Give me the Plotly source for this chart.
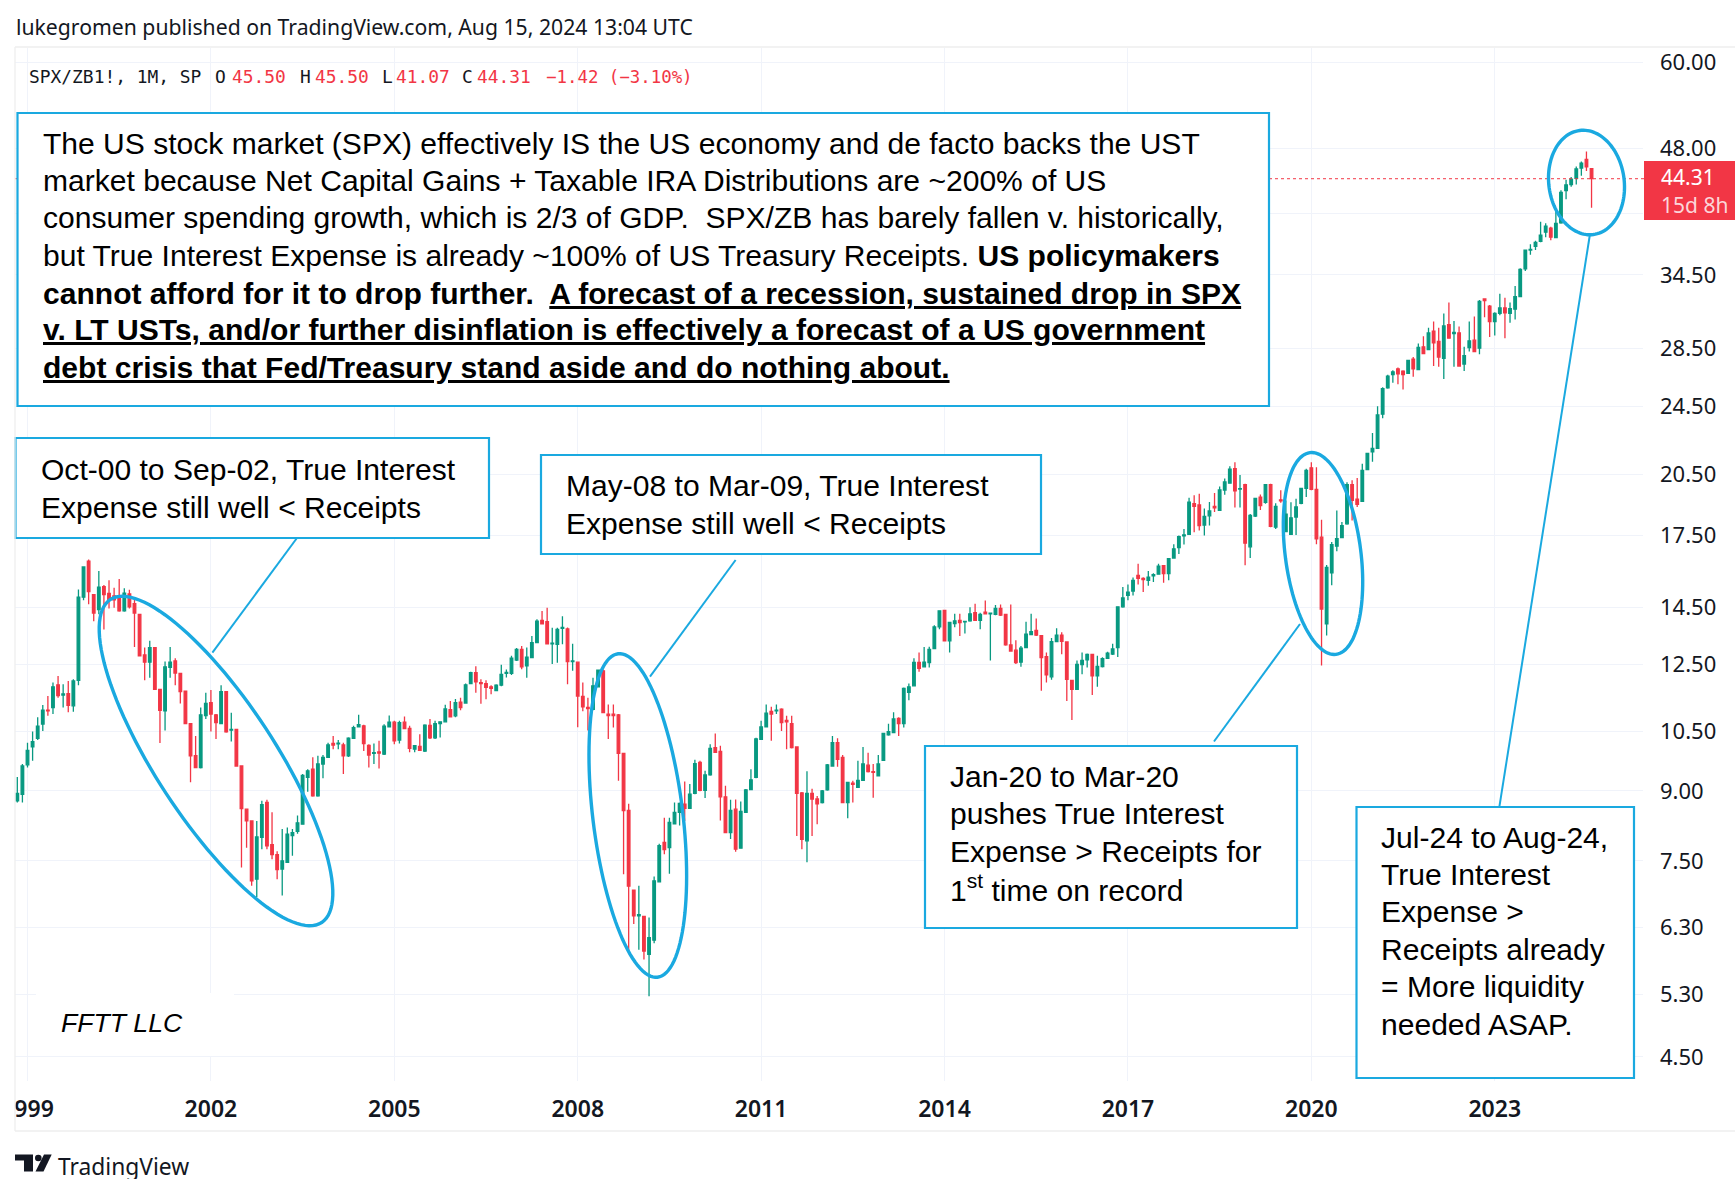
"""Месячные свечи SPX/ZB1! с текстовыми врезками и овалами (Plotly, всё в одном out.html)."""
import math
import plotly.graph_objects as go

W, H = 1735, 1179
BLUE = '#1AA9E0'
RED = '#F23645'
GREEN = '#089981'
INK = '#131722'
GRID = '#F0F3FA'

months = list(range(-2, 308))  # номер месяца от января 1999
opens = [
    8.77, 8.92, 9.63, 10.09, 10.32, 10.71, 11.1, 11.18, 11.86, 11.55,
    11.59, 11.23, 12.0, 14.9, 16.37, 15.0, 14.43, 15.32, 15.05, 14.95,
    14.88, 14.38, 15.03, 14.65, 14.25, 12.82, 12.58, 13.07, 11.72, 11.08,
    12.41, 12.62, 12.22, 11.67, 10.72, 9.86, 9.56, 10.95, 11.32, 10.97,
    10.72, 11.65, 10.54, 10.56, 9.6, 8.58, 8.32, 7.15, 7.97, 8.73,
    7.82, 7.62, 7.34, 7.47, 8.01, 8.1, 8.25, 9.32, 9.52, 8.88,
    9.65, 9.82, 10.18, 10.17, 10.14, 9.86, 10.32, 10.63, 10.66, 10.13,
    9.92, 9.96, 9.9, 10.63, 10.76, 10.27, 10.76, 10.59, 10.03, 10.1,
    9.98, 10.67, 10.33, 10.72, 10.77, 11.12, 10.94, 11.34, 11.31, 11.9,
    12.24, 11.93, 11.9, 11.8, 11.68, 11.85, 12.22, 12.22, 12.65, 13.01,
    12.46, 12.73, 13.24, 14.03, 13.98, 13.2, 13.18, 13.74, 13.72, 12.6,
    12.58, 11.51, 11.18, 11.13, 11.8, 12.3, 10.99, 10.99, 10.97, 9.92,
    8.55, 6.95, 6.5, 6.49, 5.88, 6.1, 7.1, 7.87, 7.76, 8.26,
    8.51, 8.69, 8.6, 8.94, 9.69, 9.01, 9.38, 10.07, 9.97, 8.86,
    8.07, 8.58, 7.75, 8.51, 9.03, 9.32, 10.29, 10.63, 11.07, 11.08,
    11.13, 10.81, 10.72, 10.09, 8.95, 7.9, 8.94, 8.81, 8.73, 9.02,
    9.6, 10.2, 9.82, 8.73, 9.18, 9.08, 9.25, 9.62, 9.46, 9.36,
    9.74, 10.41, 10.47, 10.87, 10.72, 11.63, 11.83, 12.57, 12.43, 12.57,
    13.03, 13.79, 14.4, 13.3, 13.91, 14.03, 13.97, 14.01, 14.31, 14.03,
    14.33, 14.27, 14.25, 14.47, 14.25, 13.16, 12.98, 12.58, 13.07, 13.52,
    13.67, 13.48, 12.76, 12.11, 13.27, 13.5, 13.26, 12.0, 11.72, 12.5,
    12.66, 12.84, 12.14, 12.44, 12.71, 12.85, 13.07, 14.53, 14.97, 15.14,
    15.77, 15.65, 15.57, 15.75, 15.82, 16.18, 15.84, 16.5, 16.95, 17.48,
    17.55, 19.01, 18.95, 17.98, 18.42, 18.88, 18.68, 19.7, 20.05, 20.83,
    19.75, 19.98, 16.99, 18.41, 19.34, 19.08, 19.97, 17.88, 19.2, 17.68,
    17.55, 18.36, 19.02, 19.78, 20.87, 19.73, 17.42, 13.9, 15.88, 17.02,
    17.4, 18.04, 19.97, 19.23, 19.13, 20.78, 21.75, 21.95, 24.0, 25.7,
    26.6, 27.0, 26.85, 26.7, 27.7, 26.95, 28.6, 28.4, 29.8, 29.0,
    27.75, 30.3, 29.6, 29.65, 27.35, 28.55, 29.1, 28.5, 32.4, 31.8,
    30.55, 31.2, 31.65, 31.2, 31.55, 32.6, 35.05, 36.8, 37.15, 37.65,
    38.55, 38.95, 38.0, 39.5, 42.95, 43.65, 44.35, 45.55, 46.6, 45.5,
]
highs = [
    9.33, 9.65, 10.2, 10.5, 10.9, 11.25, 11.52, 11.93, 12.14, 11.88,
    11.98, 12.03, 15.2, 16.12, 16.44, 15.03, 15.95, 15.38, 15.57, 15.27,
    15.62, 15.25, 15.19, 14.8, 14.27, 13.07, 13.3, 13.09, 11.72, 12.6,
    13.09, 12.71, 12.23, 11.67, 10.72, 10.38, 11.18, 11.62, 11.7, 10.99,
    11.85, 11.65, 11.03, 10.56, 9.6, 8.58, 8.32, 8.32, 8.77, 8.79,
    8.51, 7.69, 8.15, 8.18, 8.15, 8.44, 9.4, 9.52, 9.82, 9.86,
    9.88, 10.2, 10.38, 10.27, 10.2, 10.35, 10.66, 10.97, 10.69, 10.16,
    10.18, 10.25, 10.7, 10.95, 10.8, 10.8, 10.92, 10.66, 10.14, 10.43,
    10.7, 10.85, 10.8, 10.78, 11.26, 11.37, 11.43, 11.47, 11.9, 12.27,
    12.45, 12.03, 12.0, 11.85, 11.88, 12.5, 12.34, 12.79, 13.05, 13.12,
    13.07, 13.47, 14.07, 14.37, 14.5, 13.76, 13.76, 14.18, 13.77, 13.2,
    12.58, 11.93, 11.47, 12.08, 12.34, 12.34, 11.27, 11.27, 10.99, 9.92,
    8.7, 6.95, 7.03, 6.49, 6.47, 7.2, 7.84, 8.39, 8.39, 8.73,
    8.73, 9.22, 9.16, 9.76, 9.73, 9.48, 10.16, 10.45, 10.12, 9.12,
    8.79, 8.8, 8.75, 9.04, 9.52, 10.33, 10.8, 11.27, 11.2, 11.27,
    11.16, 10.94, 10.94, 10.09, 8.97, 9.47, 9.05, 8.88, 9.02, 9.65,
    10.38, 10.32, 9.88, 9.2, 9.24, 9.73, 10.09, 9.94, 9.65, 9.88,
    10.47, 10.72, 11.04, 10.9, 11.78, 11.9, 12.71, 12.9, 13.09, 13.1,
    13.85, 14.4, 14.4, 13.98, 14.27, 14.27, 14.01, 14.52, 14.65, 14.31,
    14.77, 14.3, 14.6, 14.62, 14.27, 14.62, 13.32, 13.12, 13.98, 14.27,
    14.1, 13.5, 12.9, 13.4, 13.74, 13.6, 13.26, 12.02, 12.64, 12.9,
    12.87, 12.84, 12.79, 12.74, 12.93, 13.2, 14.55, 15.3, 15.4, 15.68,
    16.26, 15.7, 15.95, 15.86, 16.26, 16.2, 16.5, 17.1, 17.5, 17.8,
    19.3, 19.43, 19.51, 18.77, 19.09, 19.54, 19.88, 20.3, 20.95, 21.18,
    20.48, 20.02, 18.5, 19.3, 19.47, 20.0, 20.02, 19.03, 19.68, 19.17,
    19.08, 19.26, 19.8, 20.82, 21.17, 20.9, 18.23, 16.2, 17.2, 18.68,
    18.12, 20.1, 20.2, 20.33, 21.09, 21.7, 22.85, 24.5, 25.75, 26.6,
    26.9, 27.1, 26.9, 27.6, 27.85, 28.85, 29.4, 30.05, 30.55, 30.05,
    31.2, 32.1, 30.6, 30.15, 28.6, 30.55, 30.95, 32.3, 32.4, 31.9,
    31.3, 32.85, 32.5, 32.1, 33.5, 35.1, 36.85, 37.35, 37.7, 39.6,
    39.45, 39.1, 40.7, 43.0, 44.2, 44.5, 45.75, 46.35, 47.55, 45.5,
]
lows = [
    8.73, 8.73, 9.56, 9.73, 10.27, 10.52, 10.94, 10.99, 11.47, 11.18,
    11.04, 11.06, 11.85, 14.78, 14.63, 14.0, 14.25, 13.7, 14.47, 14.5,
    14.35, 14.35, 14.47, 13.09, 12.79, 12.0, 12.08, 11.72, 10.19, 10.53,
    12.08, 11.85, 11.3, 10.72, 9.2, 9.56, 9.54, 10.85, 10.5, 10.3,
    10.7, 10.47, 10.23, 9.6, 7.37, 7.76, 7.03, 6.82, 7.73, 7.73,
    7.53, 7.15, 6.85, 7.46, 7.6, 8.05, 8.24, 8.98, 8.86, 8.86,
    9.3, 9.8, 10.03, 10.03, 9.4, 9.83, 10.3, 10.61, 9.98, 9.56,
    9.65, 9.54, 9.88, 10.61, 10.16, 10.18, 10.58, 9.95, 9.95, 9.98,
    9.96, 10.3, 10.3, 10.34, 10.75, 10.9, 10.9, 11.1, 11.3, 11.88,
    11.62, 11.29, 11.42, 11.57, 11.66, 11.82, 12.09, 12.17, 12.62, 12.35,
    12.08, 12.71, 13.22, 13.88, 13.18, 12.52, 12.56, 13.18, 11.88, 12.3,
    10.62, 11.07, 10.53, 11.1, 11.78, 11.03, 10.3, 10.61, 9.24, 7.24,
    5.93, 6.36, 5.95, 5.8, 5.27, 6.05, 7.09, 7.63, 7.25, 8.25,
    8.22, 8.32, 8.6, 8.92, 8.99, 8.83, 9.36, 9.93, 8.33, 8.07,
    7.94, 7.68, 7.74, 8.5, 9.01, 9.3, 10.27, 10.61, 10.25, 10.99,
    10.52, 10.03, 10.05, 8.0, 7.73, 7.47, 8.0, 8.25, 8.71, 9.0,
    9.58, 9.58, 8.72, 8.38, 8.73, 9.07, 9.24, 9.44, 8.84, 9.34,
    9.73, 10.39, 10.46, 10.38, 10.61, 11.39, 11.81, 12.27, 12.41, 12.41,
    13.01, 13.71, 13.28, 12.9, 13.78, 13.47, 13.56, 13.98, 14.01, 13.71,
    14.27, 12.64, 14.22, 14.19, 13.13, 12.95, 12.52, 12.43, 13.05, 13.5,
    13.47, 11.68, 11.93, 12.02, 13.25, 12.84, 11.37, 10.82, 11.71, 12.19,
    12.41, 11.55, 11.8, 12.41, 12.69, 12.82, 12.75, 14.5, 14.78, 14.97,
    15.4, 15.1, 15.35, 15.5, 15.8, 15.47, 15.57, 16.47, 16.68, 17.09,
    17.53, 17.65, 17.73, 17.5, 17.96, 18.6, 18.65, 19.46, 20.02, 18.82,
    18.82, 16.19, 16.5, 18.36, 18.7, 19.0, 17.88, 17.8, 19.05, 17.65,
    17.52, 17.52, 18.98, 19.34, 19.68, 17.1, 12.47, 13.49, 15.37, 16.8,
    17.37, 18.0, 18.2, 18.85, 19.1, 20.76, 21.2, 21.93, 23.75, 25.65,
    26.05, 25.95, 25.6, 26.65, 26.45, 26.9, 28.05, 28.35, 27.2, 27.15,
    26.3, 29.25, 27.15, 27.15, 26.85, 28.25, 28.2, 28.05, 30.9, 29.35,
    29.45, 31.05, 29.25, 30.45, 30.7, 32.55, 34.85, 36.35, 36.8, 37.55,
    38.05, 37.75, 37.95, 39.4, 42.0, 43.4, 43.65, 44.65, 45.2, 41.07,
]
closes = [
    8.94, 9.6, 10.0, 10.23, 10.65, 11.1, 11.08, 11.8, 11.53, 11.58,
    11.24, 11.98, 14.9, 16.12, 15.12, 14.3, 15.3, 15.0, 14.82, 14.8,
    14.38, 15.06, 14.53, 14.3, 12.79, 12.58, 13.07, 11.72, 11.1, 12.43,
    12.58, 12.23, 11.65, 10.72, 9.86, 9.56, 10.97, 11.3, 10.99, 10.75,
    11.65, 10.49, 10.56, 9.6, 8.59, 8.32, 7.12, 7.98, 8.68, 7.8,
    7.62, 7.33, 7.5, 8.04, 8.07, 8.28, 9.37, 9.48, 8.88, 9.65,
    9.82, 10.14, 10.14, 10.19, 9.86, 10.32, 10.61, 10.69, 10.18, 9.88,
    9.94, 9.93, 10.65, 10.76, 10.25, 10.75, 10.58, 10.05, 10.12, 10.0,
    10.68, 10.33, 10.72, 10.77, 11.14, 10.91, 11.32, 11.18, 11.86, 12.24,
    11.95, 11.9, 11.78, 11.75, 11.85, 12.19, 12.25, 12.71, 13.01, 12.43,
    12.75, 13.24, 14.0, 13.9, 13.2, 13.22, 13.7, 13.77, 12.6, 12.62,
    11.52, 11.2, 11.15, 11.83, 12.32, 11.03, 10.95, 10.95, 9.92, 8.55,
    7.02, 6.5, 6.52, 5.93, 6.14, 7.12, 7.8, 7.72, 8.29, 8.51,
    8.71, 8.6, 8.92, 9.66, 9.01, 9.38, 10.05, 9.95, 8.86, 8.07,
    8.55, 7.73, 8.53, 9.02, 9.26, 10.3, 10.63, 11.02, 10.99, 11.1,
    10.75, 10.77, 10.07, 8.94, 7.93, 8.94, 8.81, 8.7, 9.0, 9.63,
    10.2, 9.77, 8.73, 9.2, 9.15, 9.25, 9.65, 9.46, 9.44, 9.65,
    10.45, 10.5, 10.85, 10.72, 11.75, 11.8, 12.57, 12.38, 12.58, 13.01,
    13.79, 14.38, 13.3, 13.95, 14.01, 13.95, 13.99, 14.27, 14.03, 14.25,
    14.27, 14.29, 14.47, 14.22, 13.16, 12.95, 12.57, 13.05, 13.53, 13.62,
    13.5, 12.73, 12.17, 13.27, 13.5, 13.28, 12.03, 11.72, 12.51, 12.64,
    12.84, 12.14, 12.44, 12.7, 12.88, 13.02, 14.53, 14.87, 15.1, 15.57,
    15.65, 15.6, 15.7, 15.8, 16.16, 15.84, 16.47, 16.9, 17.45, 17.52,
    19.09, 18.88, 17.96, 18.39, 18.65, 18.8, 19.7, 20.12, 20.8, 19.65,
    19.77, 17.15, 18.44, 19.27, 18.92, 19.97, 17.92, 18.87, 19.15, 18.5,
    18.32, 18.85, 19.78, 20.73, 19.73, 17.35, 14.45, 16.1, 17.09, 17.35,
    17.95, 19.98, 19.17, 18.98, 20.73, 21.67, 21.95, 23.95, 25.65, 26.5,
    26.8, 26.65, 26.6, 27.6, 27.0, 28.55, 28.1, 29.65, 28.9, 27.85,
    30.2, 29.25, 29.7, 27.2, 27.95, 29.05, 28.25, 32.2, 32.25, 30.55,
    31.2, 31.65, 31.25, 31.6, 32.6, 35.0, 36.8, 36.85, 37.55, 38.25,
    39.15, 38.05, 39.45, 42.75, 43.6, 44.25, 45.45, 46.15, 45.7, 44.31,
]
price_ticks = [60, 48, 40.5, 34.5, 28.5, 24.5, 20.5, 17.5, 14.5, 12.5, 10.5, 9, 7.5, 6.3, 5.3, 4.5]
price_labels = ['60.00', '48.00', '', '34.50', '28.50', '24.50', '20.50', '17.50', '14.50', '12.50', '10.50', '9.00', '7.50', '6.30', '5.30', '4.50']
year_months = [0, 36, 72, 108, 144, 180, 216, 252, 288]
year_labels = ['1999', '2002', '2005', '2008', '2011', '2014', '2017', '2020', '2023']
last_close = 44.31

main_lines = [
    'The US stock market (SPX) effectively IS the US economy and de facto backs the UST',
    'market because Net Capital Gains + Taxable IRA Distributions are ~200% of US',
    'consumer spending growth, which is 2/3 of GDP.  SPX/ZB has barely fallen v. historically,',
    'but True Interest Expense is already ~100% of US Treasury Receipts. <b>US policymakers</b>',
    '<b>cannot afford for it to drop further.  <u>A forecast of a recession, sustained drop in SPX</u></b>',
    '<b><u>v. LT USTs, and/or further disinflation is effectively a forecast of a US government</u></b>',
    '<b><u>debt crisis that Fed/Treasury stand aside and do nothing about.</u></b>',
]
box_2000 = ['Oct-00 to Sep-02, True Interest', 'Expense still well &lt; Receipts']
box_2008 = ['May-08 to Mar-09, True Interest', 'Expense still well &lt; Receipts']
box_2020 = ['Jan-20 to Mar-20', 'pushes True Interest', 'Expense &gt; Receipts for', '1<sup>st</sup> time on record']
box_2024 = ['Jul-24 to Aug-24,', 'True Interest', 'Expense &gt;', 'Receipts already', '= More liquidity', 'needed ASAP.']

fig = go.Figure()
fig.add_trace(go.Candlestick(
    x=months, open=opens, high=highs, low=lows, close=closes, whiskerwidth=0,
    increasing=dict(line=dict(color=GREEN, width=1.3), fillcolor=GREEN),
    decreasing=dict(line=dict(color=RED, width=1.3), fillcolor=RED),
))


def px(x):  # пиксели картинки -> доли paper
    return x / W


def py(y):
    return 1 - y / H


def rect(x0, y0, x1, y1, line=None, width=0, fill=None):
    fig.add_shape(type='rect', xref='paper', yref='paper', x0=px(x0), x1=px(x1), y0=py(y0), y1=py(y1),
                  line=dict(color=line or 'rgba(0,0,0,0)', width=width), fillcolor=fill, layer='above')


def segment(x0, y0, x1, y1, color=BLUE, width=2.0):
    fig.add_shape(type='line', xref='paper', yref='paper', x0=px(x0), x1=px(x1), y0=py(y0), y1=py(y1),
                  line=dict(color=color, width=width), layer='above')


def polygon(points, color=INK):
    path = 'M ' + ' L '.join(f'{px(a):.5f},{py(b):.5f}' for a, b in points) + ' Z'
    fig.add_shape(type='path', xref='paper', yref='paper', path=path, fillcolor=color, line=dict(width=0), layer='above')


def oval(cx, cy, a, b, angle):
    t = math.radians(angle)
    pts = []
    for k in range(120):
        u = 2 * math.pi * k / 120
        pts.append((cx + a * math.cos(u) * math.cos(t) - b * math.sin(u) * math.sin(t),
                    cy + a * math.cos(u) * math.sin(t) + b * math.sin(u) * math.cos(t)))
    path = 'M ' + ' L '.join(f'{px(p):.5f},{py(q):.5f}' for p, q in pts) + ' Z'
    fig.add_shape(type='path', xref='paper', yref='paper', path=path, line=dict(color=BLUE, width=3.4), layer='above')


def label(x, y, s, size=30.05, color='#000000', family='Liberation Sans', anchor='left'):
    fig.add_annotation(xref='paper', yref='paper', x=px(x), y=py(y), text=s, showarrow=False, xanchor=anchor, yanchor='middle',
                       align='left', borderpad=0, font=dict(family=family, size=size, color=color))


# цена последней свечи, пунктир
fig.add_shape(type='line', xref='paper', yref='y', x0=px(15), x1=px(1644), y0=last_close, y1=last_close,
              line=dict(color=RED, width=1, dash='dot'), layer='above')

# овалы и выноски
oval(216, 761, 193, 59.5, 56.8)
oval(637.8, 815.5, 162.9, 45, 83.05)
oval(1323, 553.5, 101.7, 37.8, 82.6)
oval(1586.5, 182.5, 52.5, 37.7, 82.4)
segment(297.7, 537, 212.4, 652.7)
segment(735.6, 560, 650, 676.7)
segment(1300, 624, 1214, 741.5)
segment(1590, 234, 1499.4, 806.6)

# врезки
rect(17.5, 113, 1269, 406, BLUE, 2.2, 'white')
rect(15.5, 438, 489, 538, BLUE, 2.2, 'white')
rect(541, 455, 1041, 554, BLUE, 2.2, 'white')
rect(925, 746, 1297, 928, BLUE, 2.2, 'white')
rect(1356.5, 807, 1634, 1078, BLUE, 2.2, 'white')
rect(36, 993, 234, 1056, None, 0, 'white')  # белое пятно под подписью
rect(0, 1085, 14.5, 1125, None, 0, 'white')  # обрезанный год слева

for s, y in zip(main_lines, [143.8, 180.4, 218, 255.6, 293, 329.7, 367.4]):
    label(41.5, y, s)
for s, y in zip(box_2000, [469, 507]):
    label(39.5, y, s)
for s, y in zip(box_2008, [485.8, 523.4]):
    label(565, y, s)
for s, y in zip(box_2020, [776.8, 813.3, 851, 887.5]):
    label(948.5, y, s)
for s, y in zip(box_2024, [837.6, 874, 911.8, 949.4, 986, 1024.6]):
    label(1379.5, y, s)
label(60, 1023, '<i>FFTT LLC</i>', size=26.6)

# шапка и строка OHLC
label(15, 26.7, 'lukegromen published on TradingView.com, Aug 15, 2024 13:04 UTC', size=21.2, color=INK, family='Noto Sans')
MONO = 'DejaVu Sans Mono'
label(28, 76.7, 'SPX/ZB1!, 1M, SP', size=17.9, color=INK, family=MONO)
label(213.6, 76.7, 'O', size=17.9, color=INK, family=MONO)
label(230.6, 76.7, '45.50', size=17.9, color=RED, family=MONO)
label(298.5, 76.7, 'H', size=17.9, color=INK, family=MONO)
label(314, 76.7, '45.50', size=17.9, color=RED, family=MONO)
label(381, 76.7, 'L', size=17.9, color=INK, family=MONO)
label(394.5, 76.7, '41.07', size=17.9, color=RED, family=MONO)
label(461, 76.7, 'C', size=17.9, color=INK, family=MONO)
label(475.7, 76.7, '44.31', size=17.9, color=RED, family=MONO)
label(544.5, 76.7, '−1.42 (−3.10%)', size=17.4, color=RED, family=MONO)

# ярлык цены
rect(1644, 161, 1735, 220, None, 0, RED)
label(1660, 177.5, '44.31', size=21, color='white', family='Noto Sans')
label(1660, 205, '15d 8h', size=21, color='#FBD5D9', family='Noto Sans')

# рамка
segment(15, 47, 1735, 47, '#EEEEEE', 1.3)
segment(15, 47, 15, 1131, '#EEEEEE', 1.3)
segment(15, 1131, 1735, 1131, '#EEEEEE', 1.3)

# логотип
polygon([(15, 1154.5), (33, 1154.5), (33, 1171.5), (24, 1171.5), (24, 1160.5), (15, 1160.5)])
polygon([(44, 1154.5), (51.7, 1154.5), (43.5, 1171.5), (35.5, 1171.5)])
fig.add_shape(type='circle', xref='paper', yref='paper', x0=px(35), x1=px(41.6), y0=py(1154.7), y1=py(1161.3),
              fillcolor=INK, line=dict(width=0), layer='above')
label(57, 1166, 'TradingView', size=22.8, color=INK, family='Noto Sans')

fig.update_layout(
    width=W, height=H, margin=dict(l=0, r=0, t=0, b=0, autoexpand=False), showlegend=False, boxgap=0.28,
    paper_bgcolor='white', plot_bgcolor='white',
    xaxis=dict(domain=[px(15), px(1643)], range=[-2.454, 317.1], rangeslider=dict(visible=False), showgrid=True, gridcolor=GRID, gridwidth=1,
               zeroline=False, showline=False, tickmode='array', tickvals=year_months, ticktext=year_labels, ticks='',
               ticklabelstandoff=12, tickfont=dict(family='Noto Sans', size=23, color=INK, weight=600)),
    yaxis=dict(domain=[py(1081), py(48)], type='log', range=[0.62603, 1.79434], side='right', anchor='x', showgrid=True, gridcolor=GRID, gridwidth=1,
               zeroline=False, showline=False, tickmode='array', tickvals=price_ticks, ticktext=price_labels, ticks='',
               ticklabelstandoff=16, tickfont=dict(family='Noto Sans', size=22, color=INK)),
)
fig.write_html('out.html', config={'displayModeBar': False}, post_script="document.body.style.margin='0';")
